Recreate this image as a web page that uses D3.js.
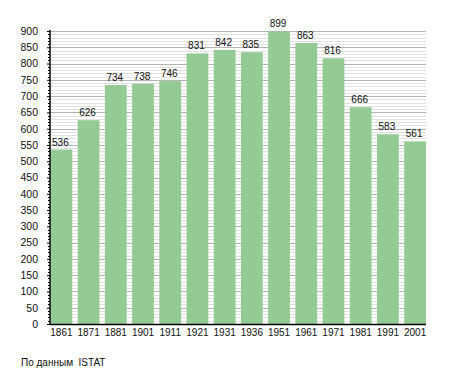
<!DOCTYPE html>
<html>
<head>
<meta charset="utf-8">
<script src="https://cdn.jsdelivr.net/npm/d3@7"></script>
<style>
  body { margin: 0; background: #fff; }
  svg text { font-family: "Liberation Sans", Arial, sans-serif; }
</style>
</head>
<body>
<div id="chart"></div>
<script>
const years = ["1861", "1871", "1881", "1901", "1911", "1921", "1931", "1936", "1951", "1961", "1971", "1981", "1991", "2001"];
const population = [536, 626, 734, 738, 746, 831, 842, 835, 899, 863, 816, 666, 583, 561];
const yTicks = [0, 50, 100, 150, 200, 250, 300, 350, 400, 450, 500, 550, 600, 650, 700, 750, 800, 850, 900];
const source = "По данным  ISTAT";

const width = 455, height = 373;
const plotLeft = 50, plotRight = 426, plotTop = 31, plotBottom = 324;

const svg = d3.select("#chart")
  .append("svg")
  .attr("width", width)
  .attr("height", height);

const x = d3.scaleBand()
  .domain(years)
  .range([plotLeft + 0.5, plotRight])
  .paddingInner(0.2)
  .paddingOuter(0);

const y = d3.scaleLinear()
  .domain([0, 900])
  .range([plotBottom, plotTop]);

// minor grid every 10, major every 50
const minor = d3.range(10, 901, 10).filter(v => v % 50 !== 0);
svg.append("g")
  .selectAll("line")
  .data(minor)
  .enter()
  .append("line")
  .attr("x1", plotLeft)
  .attr("x2", plotRight)
  .attr("y1", d => Math.round(y(d)) + 0.5)
  .attr("y2", d => Math.round(y(d)) + 0.5)
  .style("stroke", "#e2e2e2")
  .style("stroke-width", 1);

svg.append("g")
  .selectAll("line")
  .data(yTicks.filter(v => v > 0))
  .enter()
  .append("line")
  .attr("x1", plotLeft)
  .attr("x2", plotRight)
  .attr("y1", d => Math.round(y(d)) + 0.5)
  .attr("y2", d => Math.round(y(d)) + 0.5)
  .style("stroke", "#b4b4b4")
  .style("stroke-width", 1);

// bars
svg.selectAll("rect.bar")
  .data(population)
  .enter()
  .append("rect")
  .attr("class", "bar")
  .attr("x", (d, i) => x(years[i]))
  .attr("y", d => y(d))
  .attr("width", x.bandwidth())
  .attr("height", d => plotBottom - y(d))
  .style("fill", "#94cb94");

// value labels
svg.selectAll("text.val")
  .data(population)
  .enter()
  .append("text")
  .attr("class", "val")
  .attr("text-anchor", "middle")
  .attr("x", (d, i) => x(years[i]) + x.bandwidth() / 2 - 1)
  .attr("y", d => y(d) - 4)
  .style("font-size", "10px")
  .style("fill", "#111")
  .text(d => d);

// y axis with minor ticks
const yAxis = svg.append("g")
  .attr("transform", `translate(${plotLeft},0)`)
  .call(d3.axisLeft(y).tickValues(yTicks).tickSize(3).tickPadding(9));
yAxis.select(".domain").remove();
yAxis.selectAll("text").style("font-size", "10.5px").style("fill", "#111");

svg.append("g")
  .selectAll("line")
  .data(minor)
  .enter()
  .append("line")
  .attr("x1", plotLeft - 2)
  .attr("x2", plotLeft)
  .attr("y1", d => Math.round(y(d)) + 0.5)
  .attr("y2", d => Math.round(y(d)) + 0.5)
  .style("stroke", "#000");

svg.append("line")
  .attr("x1", plotLeft)
  .attr("x2", plotLeft)
  .attr("y1", plotTop - 1)
  .attr("y2", plotBottom + 1)
  .style("stroke", "#000")
  .style("stroke-width", 1.5);

// x axis
const xAxis = svg.append("g")
  .attr("transform", `translate(0,${plotBottom})`)
  .call(d3.axisBottom(x).tickSize(0).tickPadding(5));
xAxis.select(".domain").remove();
xAxis.selectAll("text").style("font-size", "10px").style("fill", "#111");

svg.append("line")
  .attr("x1", plotLeft)
  .attr("x2", plotRight)
  .attr("y1", plotBottom + 0.5)
  .attr("y2", plotBottom + 0.5)
  .style("stroke", "#000")
  .style("stroke-width", 1.5);

svg.append("text")
  .attr("x", 21)
  .attr("y", 366)
  .style("font-size", "10px")
  .style("fill", "#111")
  .style("white-space", "pre")
  .text(source);
</script>
</body>
</html>
